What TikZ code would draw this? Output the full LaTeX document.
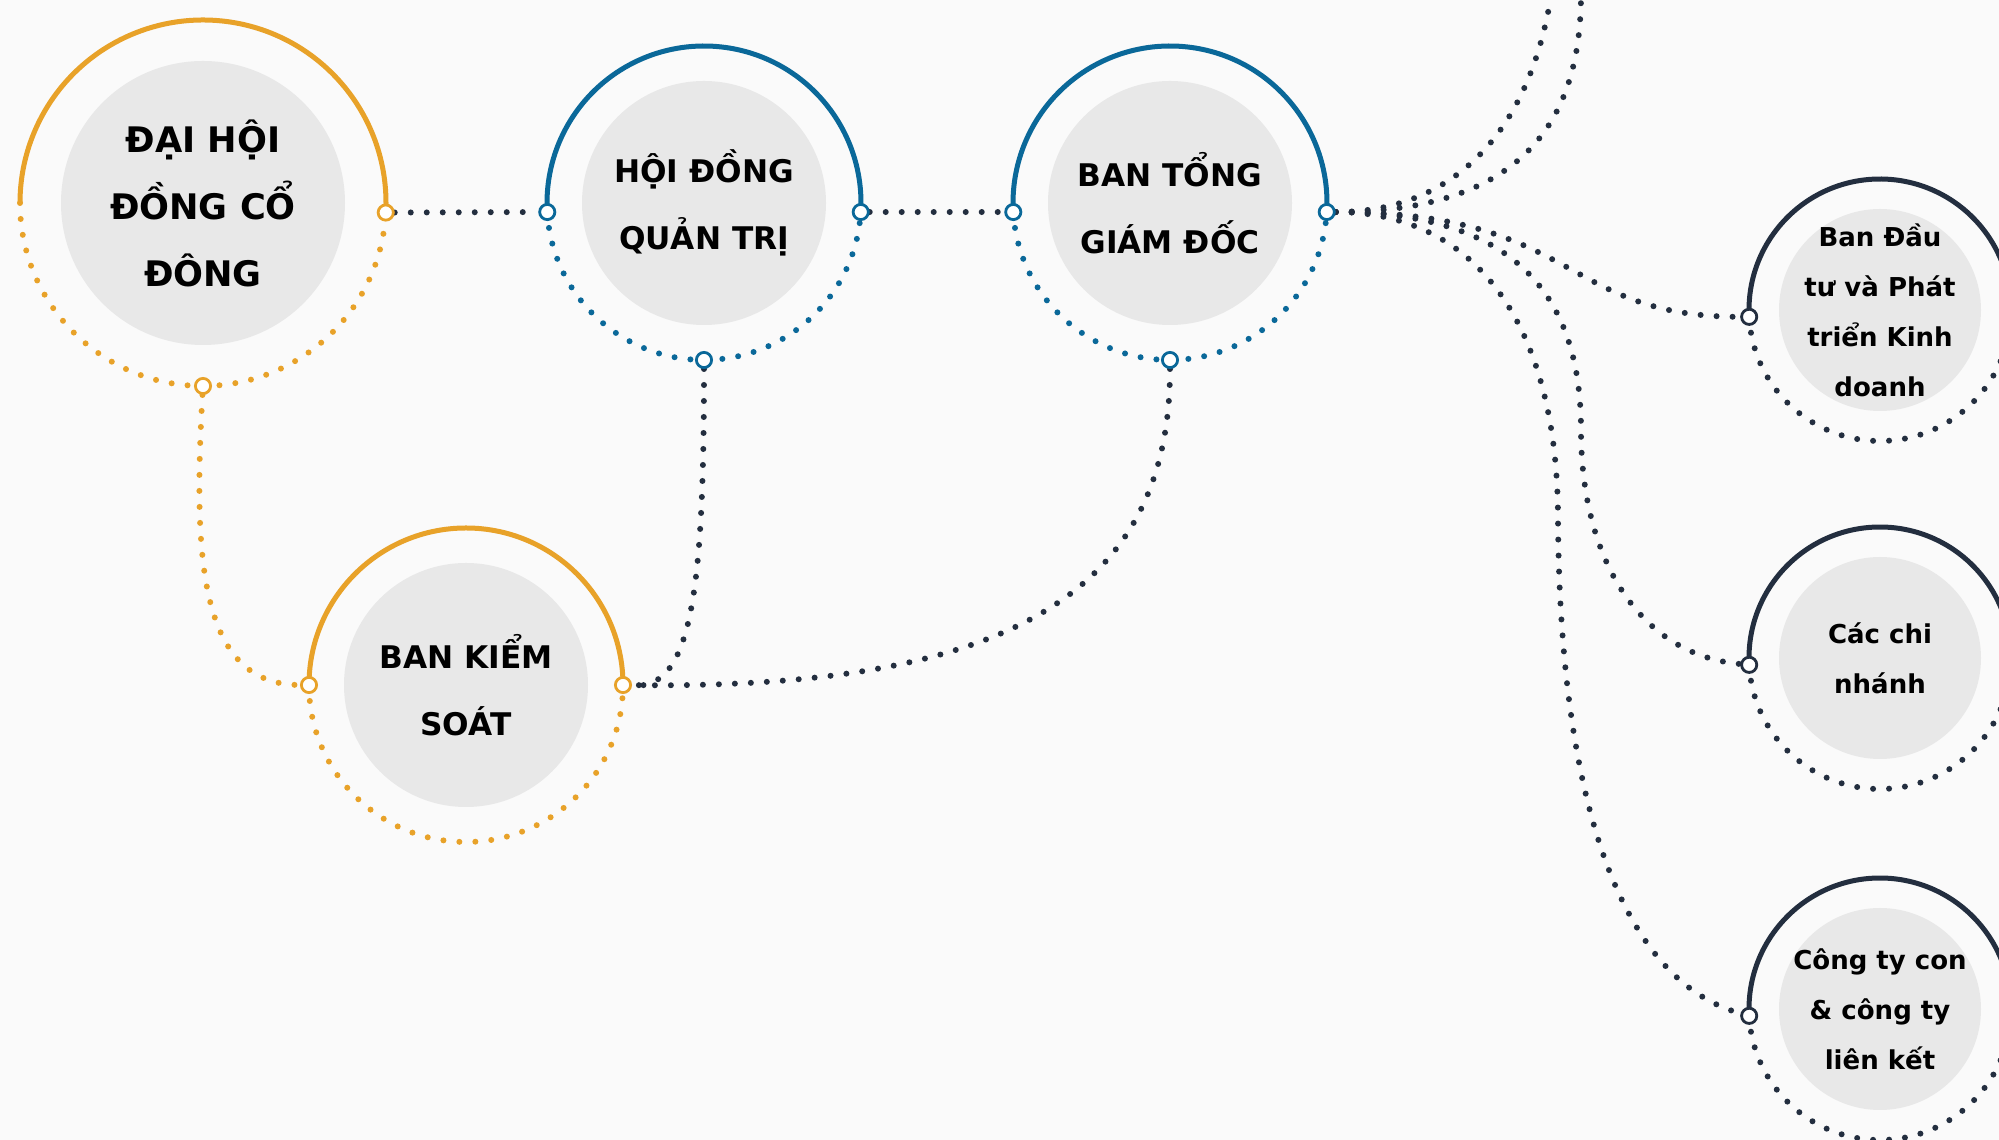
\documentclass[tikz,border=0pt]{standalone}
\usepackage{fontspec}
\setmainfont{DejaVu Sans}
\usepackage{xcolor}
\usepackage{tikz}

\definecolor{cGold}{HTML}{E8A229}
\definecolor{cBlue}{HTML}{0A6899}
\definecolor{cNavy}{HTML}{232E3F}
\definecolor{cDisc}{HTML}{E8E8E8}
\definecolor{cPaper}{HTML}{FAFAFA}

\pgfdeclarelayer{paper}
\pgfdeclarelayer{links}
\pgfsetlayers{paper,links,main}

\tikzset{
  disc/.style={circle, fill=cDisc, inner sep=0pt, minimum size=#1},
  ringline/.style={line width=2.5pt},
  dotline/.style={line width=3pt, line cap=round, dash pattern=on 0pt off 8pt},
  socket/.style={circle, draw, fill=white, line width=1.4pt, inner sep=0pt, minimum size=7.6pt},
  bigtext/.style={font=\fontsize{17.6pt}{33.5pt}\selectfont\bfseries, align=center, inner sep=0pt},
  midtext/.style={font=\fontsize{15.6pt}{33.5pt}\selectfont\bfseries, align=center, inner sep=0pt},
  smalltext/.style={font=\fontsize{13pt}{25pt}\selectfont\bfseries, align=center, inner sep=0pt},
}

\begin{document}
\begin{tikzpicture}[x=0.5pt, y=0.5pt]
    \useasboundingbox (0,0) rectangle (1999,1140);
    \begin{pgfonlayer}{paper}
        \fill[cPaper] (0,0) rectangle (1999,1140);
    \end{pgfonlayer}

    % grey discs
    \node[disc=142pt] (dhcd) at (203,937) {};
    \node[disc=122pt] (hdqt) at (704,937) {};
    \node[disc=122pt] (btgd) at (1170,937) {};
    \node[disc=122pt] (bks) at (466,455) {};
    \node[disc=101pt] (bdt) at (1880,830) {};
    \node[disc=101pt] (ccn) at (1880,482) {};
    \node[disc=101pt] (ctc) at (1880,131) {};

    % texts
    \node[bigtext] (dhcd-t) at (dhcd) {ĐẠI HỘI\\ĐỒNG CỔ\\ĐÔNG};
    \node[midtext] (hdqt-t) at (hdqt) {HỘI ĐỒNG\\QUẢN TRỊ};
    \node[midtext] (btgd-t) at (btgd) {BAN TỔNG\\GIÁM ĐỐC};
    \node[midtext] (bks-t) at (bks) {BAN KIỂM\\SOÁT};
    \node[smalltext] (bdt-t) at (bdt) {Ban Đầu\\tư và Phát\\triển Kinh\\doanh};
    \node[smalltext] (ccn-t) at (ccn) {Các chi\\nhánh};
    \node[smalltext] (ctc-t) at (ctc) {Công ty con\\\& công ty\\liên kết};

    % rings
    \draw[ringline, cGold] ([shift={(-3:183)}]dhcd.center) arc[start angle=-3, end angle=180, radius=183];
    \draw[dotline, cGold] ([shift={(180:183)}]dhcd.center) arc[start angle=180, end angle=357, radius=183];
    \draw[ringline, cBlue] ([shift={(-3.3:157)}]hdqt.center) arc[start angle=-3.3, end angle=183.3, radius=157];
    \draw[dotline, cBlue] ([shift={(183.3:157)}]hdqt.center) arc[start angle=183.3, end angle=356.7, radius=157];
    \draw[ringline, cBlue] ([shift={(-3.3:157)}]btgd.center) arc[start angle=-3.3, end angle=183.3, radius=157];
    \draw[dotline, cBlue] ([shift={(183.3:157)}]btgd.center) arc[start angle=183.3, end angle=356.7, radius=157];
    \draw[ringline, cGold] ([shift={(0:157)}]bks.center) arc[start angle=0, end angle=180, radius=157];
    \draw[dotline, cGold] ([shift={(180:157)}]bks.center) arc[start angle=180, end angle=360, radius=157];
    \draw[ringline, cNavy] ([shift={(183:131)}]bdt.center) arc[start angle=183, end angle=-3, radius=131];
    \draw[dotline, cNavy] ([shift={(183:131)}]bdt.center) arc[start angle=183, end angle=357, radius=131];
    \draw[ringline, cNavy] ([shift={(183:131)}]ccn.center) arc[start angle=183, end angle=-3, radius=131];
    \draw[dotline, cNavy] ([shift={(183:131)}]ccn.center) arc[start angle=183, end angle=357, radius=131];
    \draw[ringline, cNavy] ([shift={(183:131)}]ctc.center) arc[start angle=183, end angle=-3, radius=131];
    \draw[dotline, cNavy] ([shift={(183:131)}]ctc.center) arc[start angle=183, end angle=357, radius=131];

    % sockets on the rings
    \node[socket, draw=cGold] (dhcd-r) at ([shift={(-3:183)}]dhcd.center) {};
    \node[socket, draw=cGold] (dhcd-b) at ([shift={(270:183)}]dhcd.center) {};
    \node[socket, draw=cBlue] (hdqt-l) at ([shift={(183.3:157)}]hdqt.center) {};
    \node[socket, draw=cBlue] (hdqt-r) at ([shift={(-3.3:157)}]hdqt.center) {};
    \node[socket, draw=cBlue] (hdqt-b) at ([shift={(270:157)}]hdqt.center) {};
    \node[socket, draw=cBlue] (btgd-l) at ([shift={(183.3:157)}]btgd.center) {};
    \node[socket, draw=cBlue] (btgd-r) at ([shift={(-3.3:157)}]btgd.center) {};
    \node[socket, draw=cBlue] (btgd-b) at ([shift={(270:157)}]btgd.center) {};
    \node[socket, draw=cGold] (bks-l) at ([shift={(180:157)}]bks.center) {};
    \node[socket, draw=cGold] (bks-r) at ([shift={(0:157)}]bks.center) {};
    \node[socket, draw=cNavy] (bdt-l) at ([shift={(183:131)}]bdt.center) {};
    \node[socket, draw=cNavy] (ccn-l) at ([shift={(183:131)}]ccn.center) {};
    \node[socket, draw=cNavy] (ctc-l) at ([shift={(183:131)}]ctc.center) {};

    % bends of the fan and ends above the page
    \coordinate (v6) at (1581,710);
    \coordinate (v7) at (1558,620);
    \coordinate (v6u) at (1581,1146);
    \coordinate (v7u) at (1558,1236);
    \coordinate (top6) at (1749,1381);
    \coordinate (top7) at (1749,1732);

    \begin{pgfonlayer}{links}
        \draw[dotline, cNavy] (dhcd-r) -- (hdqt-l);
        \draw[dotline, cNavy] (hdqt-r) -- (btgd-l);
        \draw[dotline, cGold] (dhcd-b) .. controls +(-10,-174) and +(-109,0) .. (bks-l);
        \draw[dotline, cNavy] (hdqt-b) .. controls +(0,-240) and +(67,-5) .. (bks-r);
        \draw[dotline, cNavy] (btgd-b) .. controls +(0,-231) and +(388,-5) .. (bks-r);
        \draw[dotline, cNavy] (btgd-r) .. controls +(253,0) and +(-189,0) .. (bdt-l);
        \draw[dotline, cNavy] (btgd-r) .. controls +(193,0) and +(0,130) .. (v6) .. controls +(0,-130) and +(-109,10) .. (ccn-l);
        \draw[dotline, cNavy] (btgd-r) .. controls +(153,0) and +(0,190) .. (v7) .. controls +(2,-280) and +(-129,36) .. (ctc-l);
        \draw[dotline, cNavy] (btgd-r) .. controls +(193,0) and +(0,-130) .. (v6u) .. controls +(0,130) and +(-109,-10) .. (top6);
        \draw[dotline, cNavy] (btgd-r) .. controls +(153,0) and +(0,-190) .. (v7u) .. controls +(2,280) and +(-129,-36) .. (top7);
    \end{pgfonlayer}
\end{tikzpicture}
\end{document}
